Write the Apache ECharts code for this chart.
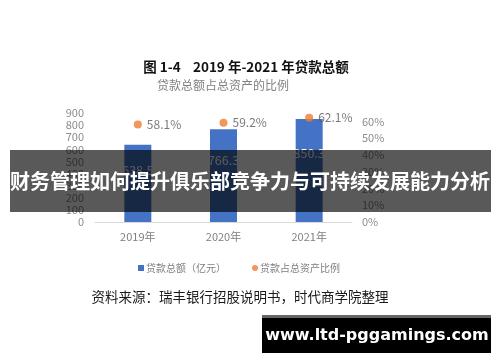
<!DOCTYPE html>
<html><head><meta charset="utf-8">
<script src="https://cdn.jsdelivr.net/npm/echarts@6/dist/echarts.min.js"></script>
<style>html,body{margin:0;padding:0;background:#fff}#c{width:500px;height:362px}</style>
</head><body><div id="c"></div>
<script>
var categories = ['2019年', '2020年', '2021年'];
var loanTotal = [638.5, 766.3, 850.3];
var loanRatio = [0.581, 0.592, 0.621];
var leftTicks = {min: 0, max: 900, interval: 100};
var rightTicks = {min: 0, max: 0.65, interval: 0.1};
var titleText = '图 1-4    2019 年-2021 年贷款总额';
var subtitleText = '贷款总额占总资产的比例';
var seriesNames = ['贷款总额（亿元）', '贷款占总资产比例'];
var sourceText = '资料来源：瑞丰银行招股说明书，时代商学院整理';
var bannerText = '财务管理如何提升俱乐部竞争力与可持续发展能力分析';
var siteText = 'www.ltd-pggamings.com';

var cjk = '"Noto Sans CJK SC", "Noto Sans", sans-serif';
var chart = echarts.init(document.getElementById('c'), null, {renderer: 'canvas'});
chart.setOption({
  animation: false,
  backgroundColor: '#fff',
  title: [
    {text: titleText, left: 241, top: 55, textAlign: 'center',
     textStyle: {fontFamily: cjk, fontSize: 13.5, fontWeight: 'bold', color: '#111'}},
    {text: subtitleText, left: 218, top: 74, textAlign: 'center',
     textStyle: {fontFamily: cjk, fontSize: 12, fontWeight: 'normal', color: '#808080'}}
  ],
  legend: {
    top: 258, left: 133, itemGap: 26, itemWidth: 6, itemHeight: 6,
    textStyle: {fontFamily: cjk, fontSize: 10, color: '#7f7f7f', padding: [0, 0, 0, -3]},
    data: [{name: seriesNames[0], icon: 'rect'}, {name: seriesNames[1], icon: 'circle'}]
  },
  grid: {left: 95, right: 148, top: 113, bottom: 140},
  xAxis: {
    type: 'category', data: categories,
    axisLine: {lineStyle: {color: '#d9d9d9'}}, axisTick: {show: false},
    axisLabel: {color: '#7f7f7f', fontSize: 11, fontFamily: cjk, margin: 9}
  },
  yAxis: [
    {type: 'value', min: leftTicks.min, max: leftTicks.max, interval: leftTicks.interval,
     splitLine: {show: false}, axisLine: {show: false}, axisTick: {show: false},
     axisLabel: {color: '#8c8c8c', fontSize: 11, fontFamily: cjk, margin: 11}},
    {type: 'value', min: rightTicks.min, max: rightTicks.max, interval: rightTicks.interval,
     splitLine: {show: false}, axisLine: {show: false}, axisTick: {show: false},
     axisLabel: {color: '#8c8c8c', fontSize: 11, fontFamily: cjk, margin: 10, showMaxLabel: false,
       formatter: function (v) { return Math.round(v * 100) + '%'; }}}
  ],
  series: [
    {name: seriesNames[0], type: 'bar', data: loanTotal, barWidth: 27,
     itemStyle: {color: '#4472C4'},
     label: {show: true, position: ['50%', '33%'], align: 'center', verticalAlign: 'middle',
       color: '#ffffff', fontSize: 12.5, fontFamily: cjk}},
    {name: seriesNames[1], type: 'scatter', yAxisIndex: 1, data: loanRatio,
     symbol: 'circle', symbolSize: 8, itemStyle: {color: '#ED7D31'},
     label: {show: true, position: 'right', distance: 5, color: '#595959', fontSize: 12, fontFamily: cjk,
       formatter: function (p) { return (p.value * 100).toFixed(1) + '%'; }}}
  ],
  graphic: [
    {type: 'text', x: 240, y: 297,
     style: {text: sourceText, fontFamily: cjk, fontSize: 13.5, fill: '#1a1a1a',
       align: 'center', verticalAlign: 'middle'}},
    {type: 'rect', shape: {x: 10, y: 150, width: 481, height: 62},
     style: {fill: 'rgba(0,0,0,0.65)'}, z: 100},
    {type: 'text', x: 250, y: 181, z: 101,
     style: {text: bannerText, fontFamily: cjk, fontSize: 20, fontWeight: 'bold', fill: '#fff',
       align: 'center', verticalAlign: 'middle'}},
    {type: 'rect', shape: {x: 262, y: 315, width: 229, height: 38},
     style: {fill: '#000'}, z: 100},
    {type: 'rect', shape: {x: 262, y: 315, width: 229, height: 3},
     style: {fill: '#666'}, z: 101},
    {type: 'text', x: 377, y: 336, z: 101,
     style: {text: siteText, fontFamily: '"DejaVu Sans", sans-serif', fontSize: 16, fontWeight: 'bold',
       fill: '#fff', align: 'center', verticalAlign: 'middle'}}
  ]
});
</script></body></html>
